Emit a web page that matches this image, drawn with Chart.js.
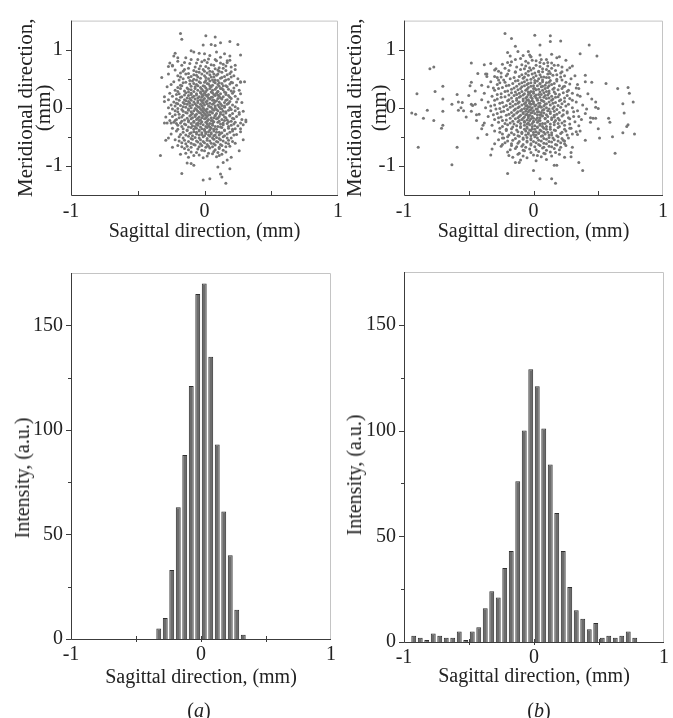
<!DOCTYPE html>
<html><head><meta charset="utf-8">
<script src="https://cdn.jsdelivr.net/npm/chart.js@4"></script>
<style>
html,body{margin:0;padding:0;background:#fff;width:673px;height:718px;overflow:hidden;}
canvas{position:absolute;}
.lab{position:absolute;font-family:'Liberation Serif','Times New Roman',serif;font-size:20px;color:#222;transform:translateX(-50%);white-space:nowrap;line-height:24px;}
.ytl{position:absolute;font-family:'Liberation Serif','Times New Roman',serif;font-size:20px;color:#222;white-space:nowrap;line-height:24px;transform:translate(-50%,-50%) rotate(-90deg);}
</style></head><body>
<canvas id="cTL" width="352" height="250" style="left:0;top:0"></canvas>
<canvas id="cTR" width="337" height="250" style="left:336px;top:0"></canvas>
<canvas id="cBL" width="352" height="450" style="left:0;top:250px"></canvas>
<canvas id="cBR" width="337" height="450" style="left:336px;top:250px"></canvas>
<div class="ytl" id="tBL" style="left:22px;top:478px"></div>
<div class="ytl" id="tBR" style="left:354px;top:475px"></div>
<div class="lab" style="left:199px;top:698px">(<i>a</i>)</div>
<div class="lab" style="left:539px;top:698px">(<i>b</i>)</div>
<script>
// ---------- data ----------
const yTitleScatter = ['Meridional direction,', '(mm)'];
const yTitleHist = 'Intensity, (a.u.)';
const xTitle = 'Sagittal direction, (mm)';

const xTickVals = [-1, 0, 1];
const xMinorVals = [-0.5, 0, 0.5];
const scatterYTicks = [-1, 0, 1];
const scatterYMinor = [-0.5, 0.5];
const histYTicks = [0, 50, 100, 150];
const histYMinor = [25, 75, 125];

// panel (a) bottom histogram: bin centres and counts
const binsA = [-0.325,-0.275,-0.225,-0.175,-0.125,-0.075,-0.025,0.025,0.075,0.125,0.175,0.225,0.275,0.325];
const countsA = [5,10,33,63,88,121,165,170,135,93,61,40,14,2];

// panel (b) bottom histogram
const binsB = [-0.925,-0.875,-0.825,-0.775,-0.725,-0.675,-0.625,-0.575,-0.525,-0.475,-0.425,-0.375,-0.325,-0.275,-0.225,-0.175,-0.125,-0.075,-0.025,0.025,0.075,0.125,0.175,0.225,0.275,0.325,0.375,0.425,0.475,0.525,0.575,0.625,0.675,0.725,0.775];
const countsB = [3,2,1,4,3,2,2,5,1,5,7,16,24,21,35,43,76,100,129,121,101,84,61,43,26,15,11,6,9,2,3,2,3,5,2];

// panel (a) top scatter (sagittal, meridional) in mm
const scatterA = [
[-0.18,1.28],[-0.17,1.18],[0.01,1.24],[0.08,1.22],[-0.01,1.08],[0.05,1.09],[0.08,1.07],[0.12,1.12],[0.19,1.14],[0.25,1.09],[0.27,0.91],[0.23,0.73],
[-0.1,0.98],[-0.08,0.96],[-0.04,0.94],[0.0,0.93],[0.04,0.9],[0.09,0.96],[0.15,0.93],[-0.22,0.94],[-0.23,0.89],[-0.2,0.86],[-0.26,0.77],[-0.27,0.71],
[-0.24,0.72],[0.19,0.89],[0.17,0.81],[-0.32,0.52],[0.27,0.44],[0.3,0.45],[-0.3,0.11],[-0.3,-0.26],[-0.28,-0.26],[-0.25,-0.26],[0.31,-0.21],[0.31,-0.24],
[0.29,-0.29],[0.27,-0.36],[-0.29,-0.56],[-0.27,-0.52],[-0.33,-0.82],[-0.24,-0.68],[0.29,-0.55],[0.26,-0.74],[-0.17,-1.13],[-0.13,-0.95],[-0.1,-0.96],
[-0.08,-0.99],[-0.01,-1.24],[0.04,-1.22],[0.16,-1.3],[0.19,-1.05],[0.12,-1.14],[0.13,-1.19],[0.1,-1.02],[0.14,-0.94],[0.17,-0.9],
[-0.14,0.86],[0.03,0.84],[0.12,0.87],[-0.05,0.83],[-0.2,0.8],[-0.02,0.79],[0.09,0.81],[0.17,0.78],[-0.11,0.76],[0.05,0.74],[0.14,0.75],[-0.24,0.73],
[-0.07,0.7],[0.01,0.71],[0.11,0.69],[0.2,0.7],
[-0.22,0.65],[-0.15,0.66],[-0.08,0.64],[-0.01,0.66],[0.04,0.63],[0.1,0.65],[0.16,0.64],[0.23,0.66],
[-0.18,0.6],[-0.12,0.59],[-0.04,0.61],[0.02,0.6],[0.07,0.58],[0.13,0.61],[0.19,0.59],[-0.27,0.58],
[-0.2,0.55],[-0.1,0.54],[-0.06,0.56],[0.0,0.55],[0.05,0.53],[0.09,0.56],[0.15,0.54],[0.22,0.55],
[-0.16,0.5],[-0.08,0.49],[-0.03,0.51],[0.03,0.5],[0.08,0.48],[0.12,0.51],[0.18,0.49],[0.25,0.5],
[-0.23,0.45],[-0.14,0.44],[-0.09,0.46],[-0.04,0.45],[0.0,0.44],[0.04,0.46],[0.07,0.45],[0.11,0.43],[0.15,0.46],[0.2,0.44],[0.27,0.45],
[-0.25,0.4],[-0.18,0.39],[-0.11,0.41],[-0.06,0.4],[-0.01,0.38],[0.03,0.41],[0.06,0.39],[0.1,0.4],[0.14,0.38],[0.19,0.41],[0.24,0.39],
[-0.2,0.35],[-0.13,0.34],[-0.07,0.36],[-0.03,0.35],[0.01,0.34],[0.05,0.36],[0.09,0.35],[0.13,0.33],[0.17,0.36],[0.22,0.34],[-0.28,0.36],
[-0.22,0.3],[-0.15,0.29],[-0.1,0.31],[-0.05,0.3],[-0.01,0.29],[0.02,0.31],[0.06,0.3],[0.1,0.28],[0.14,0.31],[0.2,0.29],[0.26,0.3],
[-0.26,0.25],[-0.19,0.24],[-0.14,0.26],[-0.1,0.25],[-0.06,0.24],[-0.03,0.26],[0.0,0.25],[0.03,0.23],[0.06,0.26],[0.09,0.25],[0.12,0.24],[0.16,0.26],[0.21,0.25],[0.27,0.24],
[-0.24,0.2],[-0.17,0.19],[-0.12,0.21],[-0.08,0.2],[-0.04,0.19],[-0.01,0.21],[0.02,0.2],[0.05,0.18],[0.08,0.21],[0.11,0.2],[0.14,0.19],[0.18,0.21],[0.23,0.2],[-0.3,0.19],
[-0.21,0.15],[-0.15,0.14],[-0.11,0.16],[-0.07,0.15],[-0.03,0.14],[0.0,0.16],[0.04,0.15],[0.07,0.13],[0.1,0.16],[0.13,0.15],[0.17,0.14],[0.2,0.16],[0.25,0.15],[-0.27,0.14],
[-0.23,0.1],[-0.16,0.09],[-0.12,0.11],[-0.08,0.1],[-0.05,0.09],[-0.02,0.11],[0.01,0.1],[0.04,0.08],[0.08,0.11],[0.11,0.1],[0.15,0.09],[0.19,0.11],[0.24,0.1],[0.28,0.09],
[-0.25,0.05],[-0.18,0.04],[-0.13,0.06],[-0.09,0.05],[-0.06,0.04],[-0.03,0.06],[0.0,0.05],[0.03,0.03],[0.06,0.06],[0.1,0.05],[0.13,0.04],[0.17,0.06],[0.21,0.05],[-0.2,0.07],
[-0.27,0.0],[-0.2,-0.01],[-0.14,0.01],[-0.1,0.0],[-0.07,-0.01],[-0.04,0.01],[-0.01,0.0],[0.02,-0.02],[0.05,0.01],[0.08,0.0],[0.12,-0.01],[0.15,0.01],[0.19,0.0],[0.25,-0.01],
[-0.22,-0.05],[-0.16,-0.06],[-0.12,-0.04],[-0.08,-0.05],[-0.05,-0.06],[-0.02,-0.04],[0.01,-0.05],[0.04,-0.07],[0.07,-0.04],[0.1,-0.05],[0.14,-0.06],[0.18,-0.04],[0.23,-0.05],[0.29,-0.06],
[-0.26,-0.1],[-0.19,-0.11],[-0.13,-0.09],[-0.09,-0.1],[-0.06,-0.11],[-0.03,-0.09],[0.0,-0.1],[0.03,-0.12],[0.06,-0.09],[0.09,-0.1],[0.12,-0.11],[0.16,-0.09],[0.21,-0.1],[0.26,-0.11],
[-0.24,-0.15],[-0.17,-0.16],[-0.11,-0.14],[-0.07,-0.15],[-0.04,-0.16],[-0.01,-0.14],[0.02,-0.15],[0.05,-0.17],[0.08,-0.14],[0.11,-0.15],[0.15,-0.16],[0.19,-0.14],[0.24,-0.15],[-0.29,-0.16],
[-0.21,-0.2],[-0.15,-0.21],[-0.1,-0.19],[-0.06,-0.2],[-0.03,-0.21],[0.0,-0.19],[0.03,-0.2],[0.06,-0.22],[0.09,-0.19],[0.13,-0.2],[0.17,-0.21],[0.22,-0.19],[0.28,-0.2],[-0.26,-0.22],
[-0.23,-0.25],[-0.18,-0.26],[-0.12,-0.24],[-0.08,-0.25],[-0.05,-0.26],[-0.02,-0.24],[0.01,-0.25],[0.04,-0.27],[0.07,-0.24],[0.1,-0.25],[0.14,-0.26],[0.18,-0.24],[0.23,-0.25],[0.27,-0.26],
[-0.2,-0.3],[-0.14,-0.29],[-0.09,-0.31],[-0.05,-0.3],[-0.01,-0.29],[0.03,-0.31],[0.06,-0.3],[0.1,-0.32],[0.14,-0.29],[0.2,-0.3],[0.25,-0.31],
[-0.24,-0.35],[-0.16,-0.36],[-0.1,-0.34],[-0.06,-0.35],[-0.02,-0.36],[0.02,-0.34],[0.05,-0.35],[0.09,-0.37],[0.13,-0.34],[0.18,-0.35],[0.23,-0.36],
[-0.21,-0.4],[-0.13,-0.39],[-0.08,-0.41],[-0.04,-0.4],[0.0,-0.39],[0.03,-0.41],[0.07,-0.4],[0.11,-0.42],[0.15,-0.39],[0.21,-0.4],[0.27,-0.41],
[-0.25,-0.45],[-0.18,-0.46],[-0.11,-0.44],[-0.06,-0.45],[-0.02,-0.46],[0.01,-0.44],[0.05,-0.45],[0.08,-0.47],[0.12,-0.44],[0.17,-0.45],[0.24,-0.46],
[-0.19,-0.5],[-0.12,-0.49],[-0.07,-0.51],[-0.01,-0.5],[0.04,-0.49],[0.09,-0.51],[0.14,-0.5],[0.2,-0.52],
[-0.22,-0.55],[-0.15,-0.56],[-0.09,-0.54],[-0.03,-0.55],[0.02,-0.56],[0.07,-0.54],[0.12,-0.55],[0.18,-0.56],
[-0.17,-0.6],[-0.1,-0.61],[-0.05,-0.59],[0.0,-0.6],[0.05,-0.61],[0.1,-0.59],[0.16,-0.6],[0.23,-0.61],
[-0.2,-0.65],[-0.13,-0.66],[-0.07,-0.64],[-0.02,-0.65],[0.03,-0.66],[0.08,-0.64],[0.13,-0.65],[0.19,-0.66],
[-0.15,-0.7],[-0.05,-0.71],[0.04,-0.69],[0.11,-0.7],[-0.1,-0.76],[0.0,-0.74],[0.07,-0.75],[0.16,-0.76],
[-0.18,-0.8],[-0.04,-0.81],[0.06,-0.79],[0.13,-0.8],[-0.12,-0.85],[-0.01,-0.86],[0.09,-0.84],[0.2,-0.85]
];
// panel (a) dense core, second reading pass
const scatterACore = [
[-0.1,0.83],[0.0,0.82],[0.08,0.83],[0.19,0.82],[-0.15,0.78],[-0.06,0.77],[0.02,0.78],[0.12,0.77],[-0.17,0.73],[-0.03,0.72],[0.07,0.73],[0.16,0.72],
[-0.12,0.68],[-0.04,0.67],[0.03,0.68],[0.08,0.67],[0.14,0.68],
[-0.16,0.63],[-0.06,0.62],[0.0,0.63],[0.06,0.62],[0.11,0.63],[0.2,0.62],
[-0.14,0.58],[-0.08,0.57],[-0.02,0.58],[0.04,0.57],[0.1,0.58],[0.17,0.57],
[-0.18,0.53],[-0.12,0.52],[-0.05,0.53],[0.01,0.52],[0.07,0.53],[0.13,0.52],[0.2,0.53],
[-0.19,0.48],[-0.11,0.47],[-0.06,0.48],[0.01,0.47],[0.06,0.48],[0.1,0.47],[0.16,0.48],
[-0.16,0.43],[-0.08,0.42],[-0.03,0.43],[0.02,0.42],[0.08,0.43],[0.13,0.42],[0.21,0.43],
[-0.17,0.38],[-0.1,0.37],[-0.05,0.38],[0.0,0.37],[0.04,0.38],[0.11,0.37],[0.16,0.38],
[-0.18,0.33],[-0.12,0.32],[-0.07,0.33],[-0.02,0.32],[0.04,0.33],[0.08,0.32],[0.12,0.33],[0.18,0.32],
[-0.2,0.28],[-0.12,0.27],[-0.08,0.28],[-0.03,0.27],[0.01,0.28],[0.05,0.27],[0.1,0.28],[0.15,0.27],[0.22,0.28],
[-0.21,0.23],[-0.15,0.22],[-0.1,0.23],[-0.06,0.22],[-0.02,0.23],[0.01,0.22],[0.07,0.23],[0.1,0.22],[0.16,0.23],
[-0.18,0.18],[-0.13,0.17],[-0.09,0.18],[-0.05,0.17],[-0.02,0.18],[0.03,0.17],[0.06,0.18],[0.12,0.17],[0.19,0.18],
[-0.19,0.13],[-0.14,0.12],[-0.1,0.13],[-0.05,0.12],[-0.01,0.13],[0.02,0.12],[0.06,0.13],[0.09,0.12],[0.16,0.13],
[-0.21,0.08],[-0.15,0.07],[-0.11,0.08],[-0.07,0.07],[-0.01,0.08],[0.02,0.07],[0.07,0.08],[0.12,0.07],[0.18,0.08],
[-0.22,0.03],[-0.16,0.02],[-0.11,0.03],[-0.05,0.02],[-0.02,0.03],[0.04,0.02],[0.08,0.03],[0.11,0.02],[0.15,0.03],[0.23,0.02],
[-0.24,-0.02],[-0.17,-0.03],[-0.12,-0.02],[-0.06,-0.03],[-0.03,-0.02],[0.0,-0.03],[0.06,-0.02],[0.09,-0.03],[0.13,-0.02],[0.2,-0.03],
[-0.2,-0.07],[-0.14,-0.08],[-0.1,-0.07],[-0.04,-0.08],[-0.01,-0.07],[0.02,-0.08],[0.05,-0.07],[0.12,-0.08],[0.16,-0.07],[0.26,-0.08],
[-0.22,-0.12],[-0.16,-0.13],[-0.1,-0.12],[-0.07,-0.13],[-0.02,-0.12],[0.01,-0.13],[0.04,-0.12],[0.08,-0.13],[0.14,-0.12],[0.19,-0.13],
[-0.19,-0.17],[-0.13,-0.18],[-0.09,-0.17],[-0.05,-0.18],[-0.02,-0.17],[0.01,-0.18],[0.07,-0.17],[0.1,-0.18],[0.16,-0.17],[0.21,-0.18],
[-0.22,-0.22],[-0.17,-0.23],[-0.12,-0.22],[-0.08,-0.23],[-0.04,-0.22],[0.02,-0.23],[0.05,-0.22],[0.11,-0.23],[0.15,-0.22],[0.2,-0.23],
[-0.21,-0.27],[-0.15,-0.28],[-0.1,-0.27],[-0.06,-0.28],[-0.03,-0.27],[0.02,-0.28],[0.06,-0.27],[0.12,-0.28],[0.17,-0.27],[0.22,-0.28],
[-0.17,-0.32],[-0.12,-0.33],[-0.07,-0.32],[-0.03,-0.33],[0.01,-0.32],[0.04,-0.33],[0.08,-0.32],[0.12,-0.33],[0.18,-0.32],
[-0.2,-0.37],[-0.13,-0.38],[-0.08,-0.37],[-0.04,-0.38],[0.0,-0.37],[0.04,-0.38],[0.07,-0.37],[0.15,-0.38],[0.21,-0.37],
[-0.16,-0.42],[-0.1,-0.43],[-0.06,-0.42],[-0.02,-0.43],[0.01,-0.42],[0.05,-0.43],[0.09,-0.42],[0.13,-0.43],[0.19,-0.42],
[-0.14,-0.47],[-0.09,-0.48],[-0.04,-0.47],[0.0,-0.48],[0.03,-0.47],[0.07,-0.48],[0.11,-0.47],[0.15,-0.48],[0.22,-0.47],
[-0.16,-0.52],[-0.1,-0.53],[-0.04,-0.52],[0.02,-0.53],[0.06,-0.52],[0.11,-0.53],[0.17,-0.52],
[-0.19,-0.57],[-0.12,-0.58],[-0.06,-0.57],[-0.01,-0.58],[0.04,-0.57],[0.09,-0.58],[0.14,-0.57],[0.21,-0.58],
[-0.14,-0.62],[-0.08,-0.63],[-0.03,-0.62],[0.02,-0.63],[0.07,-0.62],[0.12,-0.63],[0.18,-0.62],
[-0.17,-0.67],[-0.1,-0.68],[-0.04,-0.67],[0.01,-0.68],[0.06,-0.67],[0.11,-0.68],[0.16,-0.67],
[-0.12,-0.72],[-0.02,-0.73],[0.08,-0.72],[0.14,-0.73],[-0.14,-0.78],[-0.06,-0.77],[0.03,-0.78],[0.1,-0.77],
[-0.08,-0.82],[0.02,-0.83],[0.11,-0.82]
];

// panel (b) top scatter
const scatterB = [
[-0.94,-0.09],[-0.91,-0.11],[-0.9,0.24],[-0.89,-0.68],[-0.85,-0.18],[-0.82,-0.04],[-0.8,0.67],[-0.77,0.7],[-0.77,-0.22],[-0.76,0.28],[-0.71,-0.35],
[-0.7,-0.3],[-0.7,0.15],[-0.7,-0.06],[-0.7,0.37],[-0.63,0.06],[-0.63,-0.98],[-0.59,0.23],[-0.59,-0.68],[-0.58,0.1],[-0.56,0.0],[-0.58,-0.04],[-0.54,-0.05],
[-0.49,0.38],[-0.48,0.06],[-0.48,0.77],[-0.47,0.04],[-0.48,0.44],[-0.44,-0.12],[-0.43,-0.52],[-0.43,0.59],[-0.39,-0.3],[-0.38,0.74],[-0.37,0.58],[-0.36,0.54],
[-0.33,0.76],[-0.33,-0.81],[-0.32,-0.71],[-0.31,0.34],[-0.29,0.67],[-0.28,0.52],[-0.25,-0.66],[-0.24,-0.52],[-0.22,1.28],[-0.17,1.19],[-0.2,0.95],[-0.18,0.89],
[-0.14,1.06],[-0.12,0.97],[-0.2,-1.13],[-0.14,-0.94],[-0.11,-0.94],[0.01,1.25],[0.05,1.08],[0.13,1.24],[0.13,1.14],[0.21,1.15],[-0.04,0.97],[-0.03,0.91],
[-0.02,0.88],[0.0,-1.08],[0.05,-1.22],[0.14,-1.22],[0.17,-1.3],[0.16,-0.99],[0.18,-0.99],[0.36,0.93],[0.43,1.08],[0.49,0.89],[0.35,-0.94],[0.38,-1.08],
[0.29,-0.77],[0.29,-0.84],[0.24,-0.57],[0.4,0.56],[0.45,0.44],[0.56,0.42],[0.65,0.33],[0.69,0.07],[0.73,0.35],[0.74,0.25],[0.77,0.1],[0.78,-0.45],
[0.7,-0.09],[0.73,-0.29],[0.72,-0.32],[0.69,-0.43],[0.61,-0.5],[0.63,-0.78],[0.58,-0.18],[0.59,-0.25],[0.51,-0.52],[0.5,-0.36],[0.48,0.1],[0.48,0.01],
[0.46,-0.18],[0.48,-0.18],[0.44,-0.17],[0.4,-0.56],[0.36,-0.4],[0.35,-0.15],[0.34,-0.46],[0.3,-0.68],[0.29,-0.35],[0.26,-0.07],[0.35,0.33],[0.34,0.4],
[0.32,0.55],[0.3,0.72],[0.28,0.69],[0.2,0.88],
[-0.1,0.85],[0.06,0.83],[-0.02,0.88],[0.18,0.86],[-0.17,0.79],[0.02,0.81],[0.11,0.78],[-0.06,0.8],[-0.24,0.75],[-0.09,0.74],[0.08,0.76],[0.16,0.73],
[-0.13,0.7],[-0.03,0.69],[0.05,0.71],[0.22,0.7],
[-0.3,0.65],[-0.19,0.64],[-0.1,0.66],[-0.02,0.65],[0.04,0.63],[0.1,0.66],[0.17,0.64],[0.26,0.65],
[-0.25,0.6],[-0.14,0.61],[-0.06,0.59],[0.01,0.6],[0.07,0.62],[0.13,0.59],[0.21,0.6],[-0.36,0.58],
[-0.21,0.55],[-0.11,0.54],[-0.04,0.56],[0.02,0.55],[0.08,0.53],[0.15,0.56],[0.24,0.55],[-0.3,0.54],
[-0.18,0.5],[-0.08,0.51],[-0.02,0.49],[0.04,0.5],[0.1,0.52],[0.18,0.49],[0.29,0.5],[-0.27,0.48],
[-0.33,0.45],[-0.22,0.44],[-0.14,0.46],[-0.07,0.45],[-0.02,0.43],[0.03,0.46],[0.07,0.45],[0.12,0.44],[0.18,0.46],[0.25,0.44],[0.4,0.45],
[-0.28,0.4],[-0.19,0.39],[-0.11,0.41],[-0.05,0.4],[0.0,0.38],[0.05,0.41],[0.09,0.39],[0.14,0.4],[0.2,0.38],[0.28,0.41],[-0.4,0.39],
[-0.24,0.35],[-0.15,0.34],[-0.09,0.36],[-0.04,0.35],[0.01,0.33],[0.06,0.36],[0.11,0.35],[0.16,0.34],[0.23,0.36],[0.33,0.34],[-0.35,0.36],
[-0.3,0.3],[-0.2,0.29],[-0.12,0.31],[-0.06,0.3],[-0.02,0.28],[0.02,0.31],[0.07,0.3],[0.12,0.29],[0.19,0.31],[0.27,0.3],[-0.45,0.29],
[-0.38,0.25],[-0.25,0.24],[-0.17,0.26],[-0.11,0.25],[-0.07,0.24],[-0.03,0.26],[0.0,0.25],[0.04,0.23],[0.08,0.26],[0.12,0.25],[0.17,0.24],[0.23,0.26],[0.3,0.25],[0.42,0.24],
[-0.32,0.2],[-0.22,0.19],[-0.15,0.21],[-0.1,0.2],[-0.05,0.19],[-0.02,0.21],[0.01,0.2],[0.05,0.18],[0.09,0.21],[0.14,0.2],[0.19,0.19],[0.26,0.21],[0.36,0.2],[-0.5,0.21],
[-0.28,0.15],[-0.19,0.14],[-0.13,0.16],[-0.08,0.15],[-0.04,0.14],[-0.01,0.16],[0.03,0.15],[0.06,0.13],[0.1,0.16],[0.15,0.15],[0.21,0.14],[0.28,0.16],[-0.4,0.14],[0.45,0.15],
[-0.35,0.1],[-0.24,0.09],[-0.16,0.11],[-0.11,0.1],[-0.06,0.09],[-0.03,0.11],[0.0,0.1],[0.04,0.08],[0.08,0.11],[0.12,0.1],[0.17,0.09],[0.24,0.11],[0.33,0.1],[-0.55,0.09],
[-0.3,0.05],[-0.21,0.04],[-0.14,0.06],[-0.09,0.05],[-0.05,0.04],[-0.02,0.06],[0.02,0.05],[0.05,0.03],[0.09,0.06],[0.13,0.05],[0.19,0.04],[0.27,0.06],[0.38,0.05],[-0.45,0.06],
[-0.37,0.0],[-0.26,-0.01],[-0.18,0.01],[-0.12,0.0],[-0.07,-0.01],[-0.04,0.01],[-0.01,0.0],[0.03,-0.02],[0.06,0.01],[0.1,0.0],[0.15,-0.01],[0.21,0.01],[0.3,0.0],[0.5,-0.01],
[-0.33,-0.05],[-0.23,-0.06],[-0.15,-0.04],[-0.1,-0.05],[-0.06,-0.06],[-0.03,-0.04],[0.0,-0.05],[0.04,-0.07],[0.07,-0.04],[0.11,-0.05],[0.16,-0.06],[0.23,-0.04],[0.34,-0.05],[-0.48,-0.06],
[-0.28,-0.1],[-0.19,-0.11],[-0.13,-0.09],[-0.08,-0.1],[-0.05,-0.11],[-0.02,-0.09],[0.01,-0.1],[0.05,-0.12],[0.08,-0.09],[0.13,-0.1],[0.18,-0.11],[0.26,-0.09],[0.4,-0.1],[-0.42,-0.11],
[-0.35,-0.15],[-0.25,-0.16],[-0.16,-0.14],[-0.11,-0.15],[-0.07,-0.16],[-0.04,-0.14],[-0.01,-0.15],[0.03,-0.17],[0.07,-0.14],[0.11,-0.15],[0.16,-0.16],[0.22,-0.14],[0.31,-0.15],[-0.52,-0.16],
[-0.3,-0.2],[-0.21,-0.21],[-0.14,-0.19],[-0.09,-0.2],[-0.05,-0.21],[-0.02,-0.19],[0.02,-0.2],[0.05,-0.22],[0.09,-0.19],[0.14,-0.2],[0.2,-0.21],[0.28,-0.19],[0.37,-0.2],[-0.44,-0.22],
[-0.27,-0.25],[-0.18,-0.26],[-0.12,-0.24],[-0.07,-0.25],[-0.04,-0.26],[0.0,-0.24],[0.03,-0.25],[0.07,-0.27],[0.11,-0.24],[0.16,-0.25],[0.22,-0.26],[0.32,-0.24],[-0.38,-0.26],[0.44,-0.25],
[-0.32,-0.3],[-0.2,-0.29],[-0.13,-0.31],[-0.07,-0.3],[-0.03,-0.29],[0.01,-0.31],[0.05,-0.3],[0.1,-0.32],[0.16,-0.29],[0.24,-0.3],[0.35,-0.31],
[-0.26,-0.35],[-0.17,-0.36],[-0.1,-0.34],[-0.05,-0.35],[-0.01,-0.36],[0.03,-0.34],[0.08,-0.35],[0.13,-0.37],[0.19,-0.34],[0.28,-0.35],[-0.4,-0.36],
[-0.3,-0.4],[-0.21,-0.39],[-0.12,-0.41],[-0.06,-0.4],[-0.02,-0.39],[0.02,-0.41],[0.06,-0.4],[0.11,-0.42],[0.17,-0.39],[0.25,-0.4],[0.33,-0.41],
[-0.24,-0.45],[-0.15,-0.46],[-0.09,-0.44],[-0.04,-0.45],[0.0,-0.46],[0.04,-0.44],[0.09,-0.45],[0.14,-0.47],[0.21,-0.44],[0.3,-0.45],[-0.36,-0.46],
[-0.2,-0.5],[-0.11,-0.49],[-0.05,-0.51],[0.01,-0.5],[0.06,-0.49],[0.12,-0.51],[0.19,-0.5],[0.27,-0.52],
[-0.27,-0.55],[-0.16,-0.56],[-0.08,-0.54],[-0.02,-0.55],[0.04,-0.56],[0.1,-0.54],[0.16,-0.55],[0.23,-0.56],
[-0.22,-0.6],[-0.12,-0.61],[-0.05,-0.59],[0.02,-0.6],[0.08,-0.61],[0.14,-0.59],[0.21,-0.6],[-0.3,-0.62],
[-0.17,-0.65],[-0.09,-0.66],[-0.02,-0.64],[0.05,-0.65],[0.12,-0.66],[0.18,-0.64],[0.25,-0.65],[-0.24,-0.63],
[-0.14,-0.7],[-0.03,-0.71],[0.07,-0.69],[0.16,-0.7],[-0.2,-0.76],[-0.07,-0.74],[0.04,-0.75],[0.13,-0.76],
[-0.12,-0.8],[0.0,-0.81],[0.09,-0.79],[0.2,-0.8],[-0.16,-0.85],[-0.05,-0.86],[0.06,-0.84],[0.24,-0.85]
];
// panel (b) dense core, second reading pass
const scatterBCore = [
[-0.08,0.9],[0.05,0.91],[0.14,0.92],[-0.14,0.83],[-0.01,0.82],[0.1,0.83],[0.25,0.82],[-0.2,0.78],[-0.04,0.77],[0.05,0.78],[0.14,0.77],
[-0.18,0.73],[-0.06,0.72],[0.02,0.73],[0.11,0.72],[0.19,0.73],[-0.22,0.68],[-0.07,0.67],[0.0,0.68],[0.07,0.67],[0.14,0.68],
[-0.27,0.63],[-0.14,0.62],[-0.04,0.63],[0.04,0.62],[0.12,0.63],[0.22,0.62],
[-0.2,0.58],[-0.09,0.57],[-0.01,0.58],[0.05,0.57],[0.11,0.58],[0.18,0.57],
[-0.25,0.53],[-0.15,0.52],[-0.07,0.53],[0.0,0.52],[0.06,0.53],[0.12,0.52],[0.21,0.53],
[-0.23,0.48],[-0.12,0.47],[-0.05,0.48],[0.01,0.47],[0.07,0.48],[0.13,0.47],[0.22,0.48],
[-0.26,0.43],[-0.16,0.42],[-0.09,0.43],[-0.04,0.42],[0.01,0.43],[0.05,0.42],[0.1,0.43],[0.16,0.42],
[-0.21,0.38],[-0.13,0.37],[-0.07,0.38],[-0.02,0.37],[0.03,0.38],[0.07,0.37],[0.12,0.38],[0.24,0.37],
[-0.27,0.33],[-0.17,0.32],[-0.1,0.33],[-0.05,0.32],[0.0,0.33],[0.04,0.32],[0.09,0.33],[0.15,0.32],[0.22,0.33],
[-0.22,0.28],[-0.14,0.27],[-0.09,0.28],[-0.04,0.27],[0.0,0.28],[0.05,0.27],[0.1,0.28],[0.16,0.27],[0.26,0.28],
[-0.28,0.23],[-0.19,0.22],[-0.13,0.23],[-0.08,0.22],[-0.04,0.23],[0.02,0.22],[0.06,0.23],[0.11,0.22],[0.2,0.23],[0.34,0.22],
[-0.25,0.18],[-0.17,0.17],[-0.11,0.18],[-0.06,0.17],[-0.02,0.18],[0.02,0.17],[0.08,0.18],[0.12,0.17],[0.17,0.18],[0.24,0.17],
[-0.3,0.13],[-0.2,0.12],[-0.13,0.13],[-0.08,0.12],[-0.05,0.13],[-0.01,0.12],[0.03,0.13],[0.07,0.12],[0.14,0.13],[0.2,0.12],[0.3,0.13],
[-0.26,0.08],[-0.18,0.07],[-0.12,0.08],[-0.07,0.07],[-0.03,0.08],[0.0,0.07],[0.05,0.08],[0.1,0.07],[0.15,0.08],[0.22,0.07],
[-0.33,0.03],[-0.23,0.02],[-0.16,0.03],[-0.11,0.02],[-0.06,0.03],[-0.03,0.02],[0.01,0.03],[0.04,0.02],[0.08,0.03],[0.16,0.02],[0.25,0.03],
[-0.29,-0.02],[-0.2,-0.03],[-0.14,-0.02],[-0.09,-0.03],[-0.05,-0.02],[-0.02,-0.03],[0.02,-0.02],[0.08,-0.03],[0.12,-0.02],[0.18,-0.03],[0.41,-0.02],
[-0.25,-0.07],[-0.17,-0.08],[-0.12,-0.07],[-0.08,-0.08],[-0.04,-0.07],[-0.01,-0.08],[0.03,-0.07],[0.06,-0.08],[0.13,-0.07],[0.2,-0.08],[0.31,-0.07],
[-0.31,-0.12],[-0.21,-0.13],[-0.15,-0.12],[-0.1,-0.13],[-0.06,-0.12],[-0.03,-0.13],[0.03,-0.12],[0.06,-0.13],[0.1,-0.12],[0.16,-0.13],[0.23,-0.12],
[-0.27,-0.17],[-0.18,-0.18],[-0.12,-0.17],[-0.08,-0.18],[-0.04,-0.17],[0.0,-0.18],[0.05,-0.17],[0.09,-0.18],[0.14,-0.17],[0.19,-0.18],[0.27,-0.17],
[-0.24,-0.22],[-0.16,-0.23],[-0.11,-0.22],[-0.07,-0.23],[-0.03,-0.22],[0.0,-0.23],[0.04,-0.22],[0.11,-0.23],[0.17,-0.22],[0.24,-0.23],
[-0.22,-0.27],[-0.15,-0.28],[-0.1,-0.27],[-0.05,-0.28],[-0.01,-0.27],[0.05,-0.28],[0.09,-0.27],[0.13,-0.28],[0.19,-0.27],[0.28,-0.28],
[-0.24,-0.32],[-0.16,-0.33],[-0.1,-0.32],[-0.05,-0.33],[-0.01,-0.32],[0.03,-0.33],[0.07,-0.32],[0.13,-0.33],[0.2,-0.32],
[-0.21,-0.37],[-0.13,-0.38],[-0.07,-0.37],[-0.03,-0.38],[0.01,-0.37],[0.05,-0.38],[0.1,-0.37],[0.16,-0.38],[0.24,-0.37],
[-0.26,-0.42],[-0.17,-0.43],[-0.09,-0.42],[-0.04,-0.43],[0.0,-0.42],[0.04,-0.43],[0.08,-0.42],[0.14,-0.43],[0.22,-0.42],
[-0.19,-0.47],[-0.12,-0.48],[-0.06,-0.47],[-0.02,-0.48],[0.02,-0.47],[0.07,-0.48],[0.12,-0.47],[0.18,-0.48],[0.26,-0.47],
[-0.23,-0.52],[-0.14,-0.53],[-0.08,-0.52],[-0.02,-0.53],[0.03,-0.52],[0.08,-0.53],[0.15,-0.52],[0.22,-0.53],
[-0.2,-0.57],[-0.11,-0.58],[-0.05,-0.57],[0.0,-0.58],[0.06,-0.57],[0.12,-0.58],[0.19,-0.57],
[-0.17,-0.62],[-0.08,-0.63],[-0.02,-0.62],[0.04,-0.63],[0.1,-0.62],[0.17,-0.63],[0.24,-0.62],
[-0.13,-0.67],[-0.06,-0.68],[0.01,-0.67],[0.08,-0.68],[0.14,-0.67],[0.21,-0.68],
[-0.18,-0.72],[-0.08,-0.73],[0.02,-0.72],[0.1,-0.73],[0.2,-0.72],[-0.11,-0.78],[-0.02,-0.77],[0.08,-0.78],[0.17,-0.77],
[-0.19,-0.82],[-0.08,-0.83],[0.03,-0.82],[0.14,-0.83],[-0.1,-0.9],[0.02,-0.91],[0.1,-0.89]
];

// ---------- drawing ----------
const FONT = "'Liberation Serif','Times New Roman',Times,serif";
const INK = '#222';
document.getElementById('tBL').textContent = yTitleHist;
document.getElementById('tBR').textContent = yTitleHist;

const framePlugin = {
  id: 'frame',
  afterDatasetsDraw(chart, args, o) {
    const {ctx, chartArea: a, scales: {x, y}} = chart;
    ctx.save();
    ctx.lineWidth = 1;
    ctx.strokeStyle = '#c4c4c4';
    ctx.beginPath();
    ctx.moveTo(a.left, a.top + 0.5); ctx.lineTo(a.right - 0.5, a.top + 0.5); ctx.lineTo(a.right - 0.5, a.bottom);
    ctx.stroke();
    ctx.strokeStyle = '#3c3c3c';
    ctx.beginPath();
    ctx.moveTo(a.left + 0.5, a.top); ctx.lineTo(a.left + 0.5, a.bottom + 0.5); ctx.lineTo(a.right, a.bottom + 0.5);
    for (const v of o.yMajor) { const p = Math.round(y.getPixelForValue(v)) + 0.5; ctx.moveTo(a.left - 5, p); ctx.lineTo(a.left + 0.5, p); }
    for (const v of o.yMinor) { const p = Math.round(y.getPixelForValue(v)) + 0.5; ctx.moveTo(a.left - 3, p); ctx.lineTo(a.left + 0.5, p); }
    for (const v of o.xMinor) { const p = Math.round(x.getPixelForValue(v)) + 0.5; ctx.moveTo(p, a.bottom - o.xUp); ctx.lineTo(p, a.bottom + o.xDown); }
    ctx.stroke();
    ctx.restore();
  }
};

function xAxis(h, tickSize, tickPad, titlePadBottom) {
  return {
    type: 'linear', min: -1, max: 1, offset: false,
    grid: {display: false, drawTicks: false}, border: {display: false},
    afterBuildTicks: s => { s.ticks = xTickVals.map(v => ({value: v})); },
    afterFit: s => { s.height = h; },
    ticks: {autoSkip: false, maxRotation: 0, padding: tickPad, color: INK, font: {family: FONT, size: tickSize}, callback: v => String(v)},
    title: {display: true, text: xTitle, color: INK, font: {family: FONT, size: 20, lineHeight: '24px'}, padding: {top: 0, bottom: titlePadBottom}}
  };
}
function yAxis(w, min, max, tickVals, tickSize, title, titleSize, lineH, titlePadTop) {
  return {
    type: 'linear', min, max,
    grid: {display: false, drawTicks: false}, border: {display: false},
    afterBuildTicks: s => { s.ticks = tickVals.map(v => ({value: v})); },
    afterFit: s => { s.width = w; },
    ticks: {autoSkip: false, padding: 8, color: INK, font: {family: FONT, size: tickSize}, callback: v => String(v)},
    title: {display: !!title, text: title || '', color: INK, font: {family: FONT, size: titleSize, lineHeight: lineH + 'px'}, padding: {top: titlePadTop, bottom: 0}}
  };
}
const common = {responsive: false, animation: false, events: [], plugins: {legend: {display: false}, tooltip: {enabled: false}}};

function scatterChart(id, pts, pad, yw, lineH, titlePadTop) {
  new Chart(document.getElementById(id), {
    type: 'scatter',
    data: {datasets: [{data: pts.map(p => ({x: p[0], y: p[1]})), pointRadius: 1.5, pointBackgroundColor: '#767676', pointBorderWidth: 0, pointHoverRadius: 0}]},
    options: Object.assign({}, common, {
      layout: {padding: pad},
      plugins: Object.assign({}, common.plugins, {frame: {yMajor: scatterYTicks, yMinor: scatterYMinor, xMinor: xMinorVals, xUp: 4, xDown: 0}}),
      scales: {
        x: xAxis(55, 20, 5, 6),
        y: yAxis(yw, -1.5, 1.5, scatterYTicks, 21, yTitleScatter, 21, lineH, titlePadTop)
      }
    }),
    plugins: [framePlugin]
  });
}
function histChart(id, bins, counts, pad, yw, xh, titlePadBottom) {
  new Chart(document.getElementById(id), {
    type: 'bar',
    data: {datasets: [{data: bins.map((b, i) => ({x: b, y: counts[i]})), backgroundColor: '#6c6c6c', borderColor: '#2f2f2f', borderWidth: 1, barPercentage: 0.75, categoryPercentage: 1}]},
    options: Object.assign({}, common, {
      layout: {padding: pad},
      plugins: Object.assign({}, common.plugins, {frame: {yMajor: histYTicks, yMinor: histYMinor, xMinor: xMinorVals, xUp: 3, xDown: 3}}),
      scales: {
        x: xAxis(xh, 20, 4, titlePadBottom),
        y: yAxis(yw, 0, 175, histYTicks, 20, null, 20, 24, 0)
      }
    }),
    plugins: [framePlugin]
  });
}

scatterChart('cTL', scatterA.concat(scatterACore), {top: 17, right: 14, left: 0, bottom: 0}, 71, 18, 17);
scatterChart('cTR', scatterB.concat(scatterBCore), {top: 17, right: 4, left: 0, bottom: 0}, 68, 25, 6.5);
histChart('cBL', binsA, countsA, {top: 23, right: 21, left: 0, bottom: 0}, 71, 61, 10);
histChart('cBR', binsB, countsB, {top: 22, right: 3, left: 0, bottom: 0}, 68, 58, 11);
</script>
</body></html>
